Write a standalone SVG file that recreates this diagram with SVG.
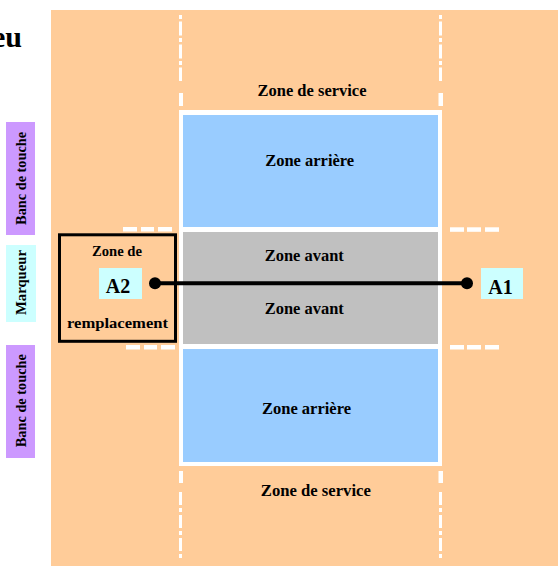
<svg xmlns="http://www.w3.org/2000/svg" width="558" height="566" viewBox="0 0 558 566">
<style>
text{font-family:"Liberation Serif","Times New Roman",serif;font-weight:bold;fill:#000;text-anchor:middle}
.court{font-size:16px}
.small{font-size:15px}
.side{font-size:14px}
.big{font-size:20px}
.dash{stroke:#fff;stroke-width:3;fill:none}
.wide{fill:#fff}
.hd{fill:#fff}
</style>
<defs>
<marker id="dot" markerUnits="userSpaceOnUse" markerWidth="14" markerHeight="14" refX="7" refY="7" viewBox="0 0 14 14">
<circle cx="7" cy="7" r="6" fill="#000"/>
</marker>
</defs>
<rect width="558" height="566" fill="#fff"/>
<text x="22" y="47" style="font-size:30px;text-anchor:end">eu</text>
<g id="terrain">
<rect x="51" y="10" width="507" height="556" fill="#FFCC99"/>
<rect x="179" y="110" width="263" height="356" fill="#fff"/>
</g>
<g id="lignes">
<line class="dash" x1="180.5" y1="15" x2="180.5" y2="81" stroke-dasharray="4 2.5 14 2.5"/>
<line class="dash" x1="440.5" y1="15" x2="440.5" y2="81" stroke-dasharray="4 2.5 14 2.5"/>
<rect class="wide" x="179" y="93" width="4" height="13"/>
<rect class="wide" x="438.5" y="93" width="4.5" height="13"/>
<rect class="wide" x="179" y="471" width="4" height="12"/>
<rect class="wide" x="438.5" y="471" width="4.5" height="12"/>
<line class="dash" x1="180.5" y1="492" x2="180.5" y2="558" stroke-dasharray="13 3 4 3"/>
<line class="dash" x1="440.5" y1="492" x2="440.5" y2="558" stroke-dasharray="13 3 4 3"/>
<rect class="hd" x="123" y="227" width="14" height="4.5"/>
<rect class="hd" x="141" y="227" width="13" height="4.5"/>
<rect class="hd" x="158" y="227" width="14" height="4.5"/>
<rect class="hd" x="126" y="345" width="14" height="4.5"/>
<rect class="hd" x="144" y="345" width="13" height="4.5"/>
<rect class="hd" x="161" y="345" width="14" height="4.5"/>
<rect class="hd" x="450" y="227.3" width="14" height="4.5"/>
<rect class="hd" x="467" y="227.3" width="14" height="4.5"/>
<rect class="hd" x="485" y="227.3" width="14" height="4.5"/>
<rect class="hd" x="450" y="345" width="14" height="4.5"/>
<rect class="hd" x="467" y="345" width="14" height="4.5"/>
<rect class="hd" x="485" y="345" width="14" height="4.5"/>
</g>
<g id="service-haut">
<text class="court" x="312" y="96" textLength="109" lengthAdjust="spacingAndGlyphs">Zone de service</text>
</g>
<g id="arriere-haut">
<rect x="183" y="115" width="255" height="112" fill="#99CCFF"/>
<text class="court" x="309.7" y="166" textLength="89" lengthAdjust="spacingAndGlyphs">Zone arrière</text>
</g>
<g id="avant">
<rect x="183" y="232" width="255" height="112" fill="#C0C0C0"/>
<text class="court" x="304.3" y="260.7" textLength="79" lengthAdjust="spacingAndGlyphs">Zone avant</text>
<text class="court" x="304.3" y="313.7" textLength="79" lengthAdjust="spacingAndGlyphs">Zone avant</text>
</g>
<g id="arriere-bas">
<rect x="183" y="349" width="255" height="113" fill="#99CCFF"/>
<text class="court" x="306.5" y="414" textLength="89" lengthAdjust="spacingAndGlyphs">Zone arrière</text>
</g>
<g id="service-bas">
<text class="court" x="315.8" y="496" textLength="110" lengthAdjust="spacingAndGlyphs">Zone de service</text>
</g>
<g id="remplacement">
<rect x="59.5" y="234.8" width="116" height="106.5" fill="none" stroke="#000" stroke-width="3"/>
<text class="small" x="117" y="256" textLength="50" lengthAdjust="spacingAndGlyphs">Zone de</text>
<text class="small" x="117.5" y="328" textLength="101" lengthAdjust="spacingAndGlyphs">remplacement</text>
</g>
<g id="connecteurs">
<line x1="155" y1="283.3" x2="467" y2="283.3" stroke="#000" stroke-width="4" marker-start="url(#dot)" marker-end="url(#dot)"/>
</g>
<g id="A2">
<rect x="99" y="268" width="43" height="31" fill="#CCFFFF"/>
<text class="big" x="118" y="293">A2</text>
</g>
<g id="A1">
<rect x="481" y="268" width="42" height="31" fill="#CCFFFF"/>
<text class="big" x="500.5" y="293.7">A1</text>
</g>
<g id="banc-haut">
<rect x="6" y="122" width="29" height="113" fill="#CC99FF"/>
<text class="side" transform="translate(26 178.4) rotate(-90)" textLength="93" lengthAdjust="spacingAndGlyphs">Banc de touche</text>
</g>
<g id="marqueur">
<rect x="6" y="245" width="30" height="77" fill="#CCFFFF"/>
<text class="side" transform="translate(26 282.5) rotate(-90)" textLength="65" lengthAdjust="spacingAndGlyphs">Marqueur</text>
</g>
<g id="banc-bas">
<rect x="6" y="345" width="29" height="113" fill="#CC99FF"/>
<text class="side" transform="translate(26 400.7) rotate(-90)" textLength="93" lengthAdjust="spacingAndGlyphs">Banc de touche</text>
</g>
</svg>
